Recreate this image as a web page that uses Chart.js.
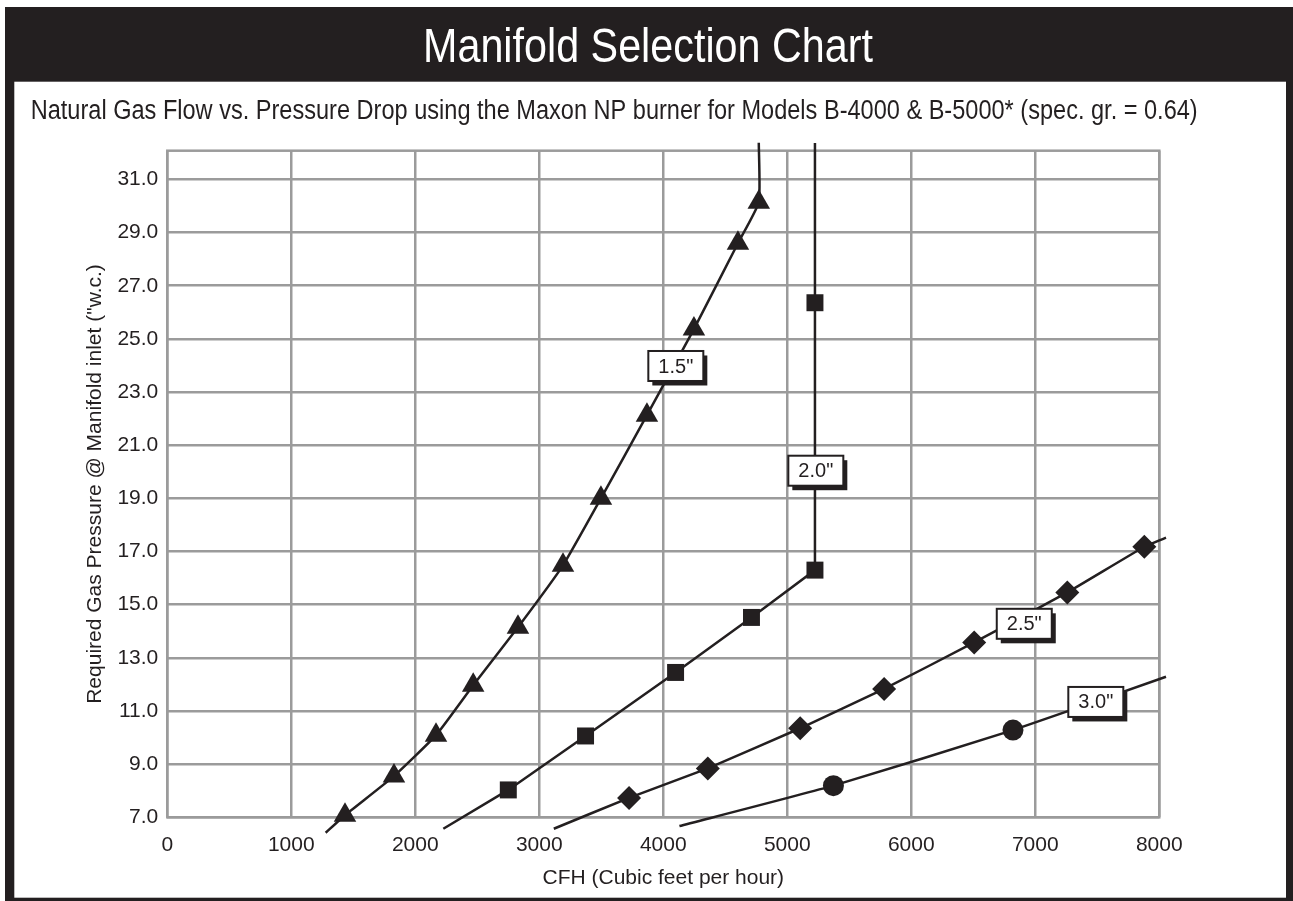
<!DOCTYPE html>
<html>
<head>
<meta charset="utf-8">
<title>Manifold Selection Chart</title>
<script src="https://cdn.jsdelivr.net/npm/chart.js@4.4.0/dist/chart.umd.min.js"></script>
<style>
  html, body { margin: 0; padding: 0; background: #fff; }
  #manifoldChart { display: block; }
</style>
</head>
<body>
<canvas id="manifoldChart" width="1293" height="901"></canvas>
<script>
// axis ticks
const xTicks = [0, 1000, 2000, 3000, 4000, 5000, 6000, 7000, 8000];
const yTicks = [7, 9, 11, 13, 15, 17, 19, 21, 23, 25, 27, 29, 31];

// manifold sizes, one curve each; first and last point of every curve are the line ends (no marker)
const sizes = ['1.5"', '2.0"', '2.5"', '3.0"'];
const cfh15 = [1277, 1433, 1828, 2167, 2467, 2828, 3191, 3497, 3868, 4247, 4602, 4770, 4770];
const wc15  = [6.42, 7.08, 8.55, 10.09, 11.97, 14.15, 16.48, 19.0, 22.13, 25.37, 28.60, 30.14, 32.38];
const cfh20 = [2226, 2750, 3373, 4099, 4711, 5223, 5223, 5223];
const wc20  = [6.57, 8.03, 10.06, 12.45, 14.52, 16.30, 26.36, 32.37];
const cfh25 = [3117, 3724, 4359, 5104, 5781, 6507, 7258, 7879, 8054];
const wc25  = [6.57, 7.73, 8.84, 10.35, 11.83, 13.58, 15.46, 17.18, 17.52];
const cfh30 = [4130, 5372, 6820, 8054];
const wc30  = [6.67, 8.19, 10.28, 12.29];

// where the size tags sit (data units)
const tagCfh = [4101, 5230, 6911, 7488];
const tagWc  = [23.98, 20.04, 14.28, 11.34];

const ink = '#231f20';
const gridGray = '#9b9b9b';
const sans = '"Liberation Sans", Arial, Helvetica, sans-serif';
const narrow = '"Liberation Sans Narrow", "Liberation Sans", Arial, sans-serif';

const toPoints = (xs, ys) => xs.map((x, i) => ({ x: x, y: ys[i] }));

function series(xs, ys, style, radius, tension) {
    const last = xs.length - 1;
    return {
        data: toPoints(xs, ys),
        showLine: true,
        borderColor: ink,
        borderWidth: 2.5,
        tension: tension,
        clip: false,
        pointStyle: style,
        pointRadius: (c) => (c.dataIndex === 0 || c.dataIndex === last) ? 0 : radius,
        pointBackgroundColor: ink,
        pointBorderWidth: 0
    };
}

// text squeezed to the width it takes in the print original (condensed face)
function fitText(ctx, text, x, y, width, font, color) {
    ctx.save();
    ctx.font = font;
    ctx.fillStyle = color;
    ctx.textAlign = 'left';
    ctx.textBaseline = 'alphabetic';
    const w = ctx.measureText(text).width;
    ctx.translate(x, y);
    ctx.scale(width / w, 1);
    ctx.fillText(text, 0, 0);
    ctx.restore();
}

const framePlugin = {
    id: 'frame',
    beforeDraw(chart) {
        const ctx = chart.ctx;
        ctx.save();
        ctx.fillStyle = '#fff';
        ctx.fillRect(0, 0, chart.width, chart.height);
        ctx.fillStyle = ink;
        ctx.fillRect(5, 7, 1288, 894);
        ctx.fillStyle = '#fff';
        ctx.fillRect(14.3, 81.7, 1286 - 14.3, 897.7 - 81.7);
        ctx.restore();
        fitText(ctx, 'Manifold Selection Chart', 423, 61.7, 450, '49px ' + narrow, '#fff');
        fitText(ctx, 'Natural Gas Flow vs. Pressure Drop using the Maxon NP burner for Models B-4000 & B-5000* (spec. gr. = 0.64)',
            30.7, 119.3, 1167, '27px ' + narrow, ink);
    },
    beforeDatasetsDraw(chart) {
        const a = chart.chartArea;
        const ctx = chart.ctx;
        ctx.save();
        ctx.strokeStyle = gridGray;
        ctx.lineWidth = 2.5;
        ctx.strokeRect(a.left, a.top, a.right - a.left, a.bottom - a.top);
        ctx.restore();
    }
};

const tagPlugin = {
    id: 'sizeTags',
    afterDatasetsDraw(chart) {
        const ctx = chart.ctx;
        const xs = chart.scales.x, ys = chart.scales.y;
        const w = 55, h = 30;
        ctx.save();
        sizes.forEach((label, i) => {
            const cx = xs.getPixelForValue(tagCfh[i]);
            const cy = ys.getPixelForValue(tagWc[i]);
            const l = cx - w / 2, t = cy - h / 2;
            ctx.fillStyle = ink;
            ctx.fillRect(l + 4, t + 4.5, w, h);
            ctx.fillStyle = '#fff';
            ctx.fillRect(l, t, w, h);
            ctx.strokeStyle = ink;
            ctx.lineWidth = 2;
            ctx.strokeRect(l, t, w, h);
            ctx.fillStyle = ink;
            ctx.font = '20px ' + sans;
            ctx.textAlign = 'center';
            ctx.textBaseline = 'middle';
            ctx.fillText(label, cx, cy + 1);
        });
        ctx.restore();
    }
};

new Chart(document.getElementById('manifoldChart'), {
    type: 'scatter',
    data: {
        datasets: [
            series(cfh15, wc15, 'triangle', 13, 0.15),
            series(cfh20, wc20, 'rect', 12, 0),
            series(cfh25, wc25, 'rectRot', 12, 0.1),
            series(cfh30, wc30, 'circle', 10.5, 0.15)
        ]
    },
    options: {
        responsive: false,
        animation: false,
        events: [],
        layout: { padding: { left: 0, top: 150.7, right: 133.7, bottom: 0 } },
        plugins: {
            legend: { display: false },
            tooltip: { enabled: false }
        },
        scales: {
            x: {
                type: 'linear',
                min: 0,
                max: 8000,
                afterBuildTicks: (s) => { s.ticks = xTicks.map(v => ({ value: v })); },
                afterFit: (s) => { s.height = 83.7; },
                grid: { color: gridGray, lineWidth: 2.5, drawTicks: false },
                border: { display: false },
                ticks: {
                    padding: 15,
                    color: ink,
                    maxRotation: 0,
                    autoSkip: false,
                    font: { family: sans, size: 21 },
                    callback: (v) => String(v)
                },
                title: {
                    display: true,
                    text: 'CFH (Cubic feet per hour)',
                    color: ink,
                    font: { family: sans, size: 21 },
                    padding: { top: 0, bottom: 10.4 }
                }
            },
            y: {
                type: 'linear',
                min: 7,
                max: 32.08,
                afterBuildTicks: (s) => { s.ticks = yTicks.map(v => ({ value: v })); },
                afterFit: (s) => { s.width = 167.3; },
                grid: { color: gridGray, lineWidth: 2.5, drawTicks: false },
                border: { display: false },
                ticks: {
                    padding: 9,
                    color: ink,
                    autoSkip: false,
                    font: { family: sans, size: 21 },
                    callback: (v) => Number(v).toFixed(1)
                },
                title: {
                    display: true,
                    text: 'Required Gas Pressure @ Manifold inlet ("w.c.)',
                    color: ink,
                    font: { family: sans, size: 21 },
                    padding: { top: 83, bottom: 0 }
                }
            }
        }
    },
    plugins: [framePlugin, tagPlugin]
});
</script>
</body>
</html>
